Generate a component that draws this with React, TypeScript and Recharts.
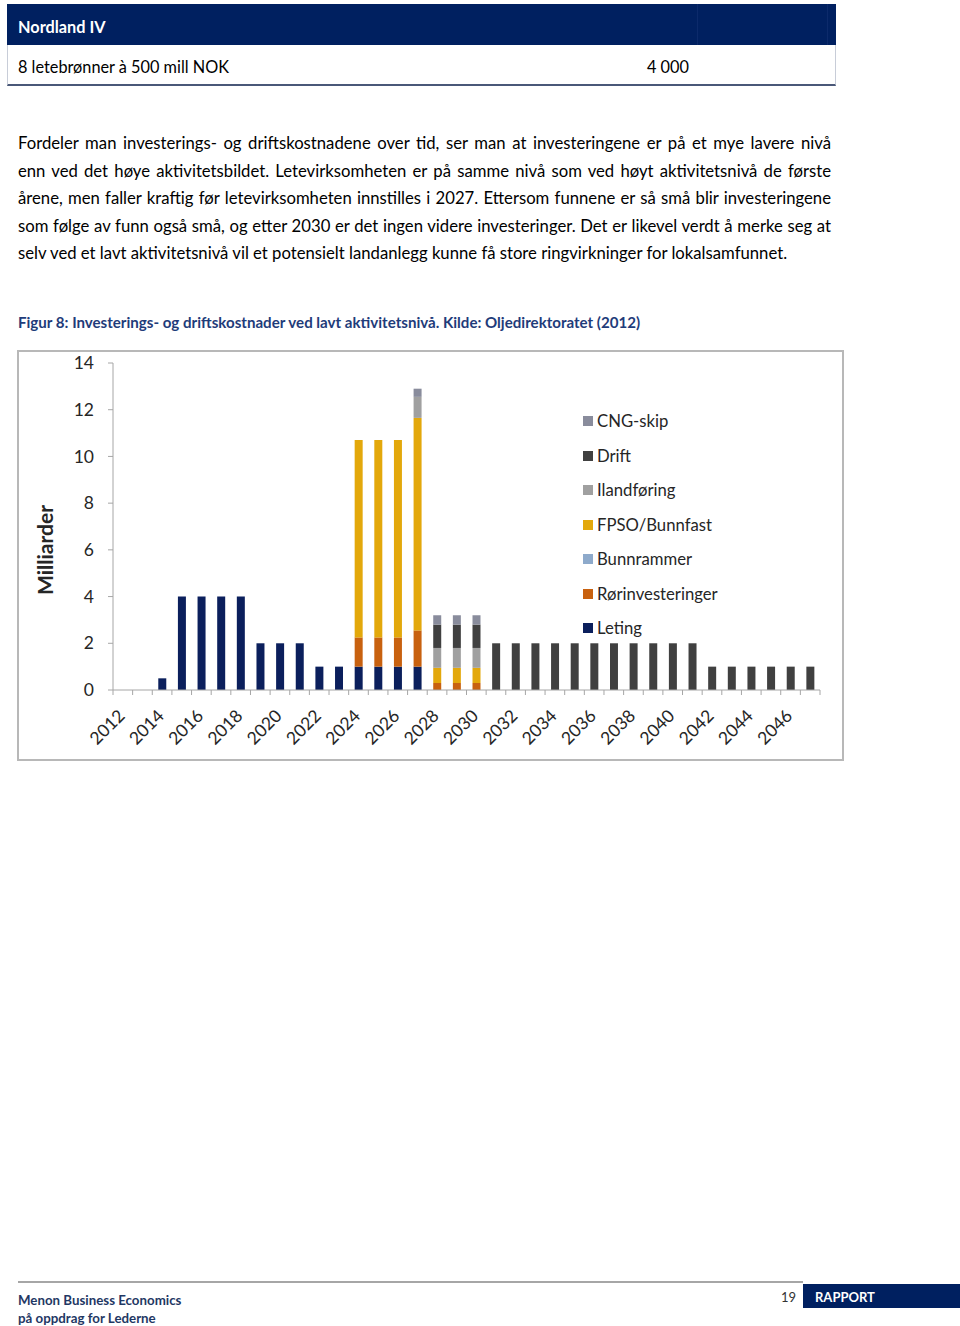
import React from "react";
import { BarChart, Bar, XAxis, YAxis, Legend, Label } from "recharts";

const years = [
  "2012", "2013", "2014", "2015", "2016", "2017", "2018", "2019", "2020", "2021",
  "2022", "2023", "2024", "2025", "2026", "2027", "2028", "2029", "2030", "2031",
  "2032", "2033", "2034", "2035", "2036", "2037", "2038", "2039", "2040", "2041",
  "2042", "2043", "2044", "2045", "2046", "2047",
];

const leting = [0, 0, 0.5, 4, 4, 4, 4, 2, 2, 2, 1, 1, 1, 1, 1, 1, 0, 0, 0, 0, 0, 0, 0, 0, 0, 0, 0, 0, 0, 0, 0, 0, 0, 0, 0, 0];
const rorinvesteringer = [0, 0, 0, 0, 0, 0, 0, 0, 0, 0, 0, 0, 1.25, 1.25, 1.25, 1.55, 0.3, 0.3, 0.3, 0, 0, 0, 0, 0, 0, 0, 0, 0, 0, 0, 0, 0, 0, 0, 0, 0];
const bunnrammer = [0, 0, 0, 0, 0, 0, 0, 0, 0, 0, 0, 0, 0, 0, 0, 0, 0, 0, 0, 0, 0, 0, 0, 0, 0, 0, 0, 0, 0, 0, 0, 0, 0, 0, 0, 0];
const fpso = [0, 0, 0, 0, 0, 0, 0, 0, 0, 0, 0, 0, 8.45, 8.45, 8.45, 9.1, 0.65, 0.65, 0.65, 0, 0, 0, 0, 0, 0, 0, 0, 0, 0, 0, 0, 0, 0, 0, 0, 0];
const ilandforing = [0, 0, 0, 0, 0, 0, 0, 0, 0, 0, 0, 0, 0, 0, 0, 0.9, 0.85, 0.85, 0.85, 0, 0, 0, 0, 0, 0, 0, 0, 0, 0, 0, 0, 0, 0, 0, 0, 0];
const drift = [0, 0, 0, 0, 0, 0, 0, 0, 0, 0, 0, 0, 0, 0, 0, 0, 1, 1, 1, 2, 2, 2, 2, 2, 2, 2, 2, 2, 2, 2, 1, 1, 1, 1, 1, 1];
const cngSkip = [0, 0, 0, 0, 0, 0, 0, 0, 0, 0, 0, 0, 0, 0, 0, 0.35, 0.4, 0.4, 0.4, 0, 0, 0, 0, 0, 0, 0, 0, 0, 0, 0, 0, 0, 0, 0, 0, 0];

const yTicks = [0, 2, 4, 6, 8, 10, 12, 14];

const seriesNames = ["Leting", "Rørinvesteringer", "Bunnrammer", "FPSO/Bunnfast", "Ilandføring", "Drift", "CNG-skip"];
const seriesKeys = ["leting", "ror", "bunn", "fpso", "iland", "drift", "cng"];
const seriesColors = ["#0b1f5c", "#c8610f", "#8eaacb", "#e3a80b", "#a0a0a0", "#404040", "#898c9c"];

const data = years.map((year, i) => ({
  year,
  leting: leting[i],
  ror: rorinvesteringer[i],
  bunn: bunnrammer[i],
  fpso: fpso[i],
  iland: ilandforing[i],
  drift: drift[i],
  cng: cngSkip[i],
}));

const AXIS = "#a6a6a6";
const FONT = "Lato, 'Open Sans', sans-serif";
const NAVY = "#002060";

const XTick = (props: any) => {
  const { x, y, payload } = props;
  const idx = props.index ?? payload.index;
  const off = payload.offset ?? 9.82;
  const tx = x + 3;
  const ty = y + 27;
  return (
    <g>
      <line x1={x - off} x2={x - off} y1={y} y2={y + 5} stroke={AXIS} strokeWidth={1} />
      {idx === years.length - 1 && (
        <line x1={x + off} x2={x + off} y1={y} y2={y + 5} stroke={AXIS} strokeWidth={1} />
      )}
      {idx % 2 === 0 && (
        <text
          x={tx}
          y={ty}
          textAnchor="end"
          transform={`rotate(-45 ${tx} ${ty})`}
          fontSize={17.5}
          fontFamily={FONT}
          fill="#262626"
        >
          {payload.value}
        </text>
      )}
    </g>
  );
};

const legendOrder = [6, 5, 4, 3, 2, 1, 0];

const renderLegend = () => (
  <div style={{ position: "relative", fontFamily: FONT }}>
    {legendOrder.map((si, k) => (
      <div
        key={seriesKeys[si]}
        style={{
          position: "absolute",
          left: 0,
          top: k * 34.5,
          height: 20,
          display: "flex",
          alignItems: "center",
          whiteSpace: "nowrap",
        }}
      >
        <span style={{ display: "inline-block", width: 10, height: 10, background: seriesColors[si], marginRight: 4 }} />
        <span style={{ fontSize: 16.7, color: "#262626" }}>{seriesNames[si]}</span>
      </div>
    ))}
  </div>
);

const bodyLines = [
  "Fordeler man investerings- og driftskostnadene over tid, ser man at investeringene er på et mye lavere nivå",
  "enn ved det høye aktivitetsbildet. Letevirksomheten er på samme nivå som ved høyt aktivitetsnivå de første",
  "årene, men faller kraftig før letevirksomheten innstilles i 2027. Ettersom funnene er så små blir investeringene",
  "som følge av funn også små, og etter 2030 er det ingen videre investeringer. Det er likevel verdt å merke seg at",
  "selv ved et lavt aktivitetsnivå vil et potensielt landanlegg kunne få store ringvirkninger for lokalsamfunnet.",
];

export default function App() {
  return (
    <div style={{ position: "absolute", left: 0, top: 0, width: 960, height: 1326, background: "#fff", fontFamily: FONT, overflow: "hidden" }}>
      {/* header table */}
      <div style={{ position: "absolute", left: 7, top: 4, width: 829, height: 41, background: NAVY }} />
      <div style={{ position: "absolute", left: 697, top: 4, width: 1, height: 41, background: "#0c2a6b" }} />
      <div style={{ position: "absolute", left: 827, top: 4, width: 1, height: 41, background: "#0c2a6b" }} />
      <div style={{ position: "absolute", left: 18, top: 16, color: "#fff", fontWeight: 700, fontSize: 16.3, lineHeight: "22px" }}>Nordland IV</div>
      <div style={{ position: "absolute", left: 7, top: 45, width: 829, height: 41, boxSizing: "border-box", borderLeft: "1px solid #c8cdd8", borderRight: "1px solid #c8cdd8", borderBottom: "2px solid #4a5878" }} />
      <div style={{ position: "absolute", left: 18, top: 56, color: "#000", fontSize: 16.3, lineHeight: "22px" }}>8 letebrønner à 500 mill NOK</div>
      <div style={{ position: "absolute", left: 647, top: 56, color: "#000", fontSize: 16.3, lineHeight: "22px" }}>4 000</div>

      {/* body text */}
      <div style={{ position: "absolute", left: 18, top: 130, width: 813, fontSize: 16.7, lineHeight: "27.5px", color: "#000" }}>
        {bodyLines.map((l, i) => (
          <div
            key={i}
            style={{
              textAlign: i < bodyLines.length - 1 ? "justify" : "left",
              textAlignLast: i < bodyLines.length - 1 ? "justify" : "left",
              whiteSpace: "nowrap",
              height: 27.5,
            } as any}
          >
            {l}
          </div>
        ))}
      </div>

      {/* caption */}
      <div style={{ position: "absolute", left: 18, top: 312, fontSize: 15.1, fontWeight: 700, color: "#1f3c7a", lineHeight: "21px", whiteSpace: "nowrap" }}>
        Figur 8: Investerings- og driftskostnader ved lavt aktivitetsnivå. Kilde: Oljedirektoratet (2012)
      </div>

      {/* chart */}
      <div style={{ position: "absolute", left: 17, top: 350, width: 827, height: 411 }}>
        <BarChart width={827} height={411} data={data} margin={{ top: 13, right: 24, bottom: 0, left: 0 }}>
          <XAxis
            dataKey="year"
            interval={0}
            tickSize={0}
            tickMargin={0}
            tick={<XTick />}
            axisLine={{ stroke: AXIS, strokeWidth: 1 }}
            tickLine={false}
            height={71}
          />
          <YAxis
            domain={[0, 14]}
            ticks={yTicks}
            interval={0}
            width={96}
            tickSize={5}
            tickMargin={14}
            axisLine={{ stroke: AXIS, strokeWidth: 1 }}
            tickLine={{ stroke: AXIS }}
            tick={{ fontSize: 17.5, fill: "#262626", fontFamily: FONT }}
          >
            <Label
              content={() => (
                <text
                  x={36}
                  y={200}
                  transform="rotate(-90 36 200)"
                  textAnchor="middle"
                  fontSize={21}
                  fontWeight={700}
                  fontFamily={FONT}
                  fill="#262626"
                >
                  Milliarder
                </text>
              )}
            />
          </YAxis>
          <Legend
            layout="horizontal"
            verticalAlign="middle"
            align="center"
            wrapperStyle={{ left: 566, top: 61, width: 0, height: 0, overflow: "visible" }}
            content={renderLegend}
          />
          {seriesKeys.map((k, i) => (
            <Bar key={k} dataKey={k} name={seriesNames[i]} stackId="a" fill={seriesColors[i]} barSize={8} isAnimationActive={false} />
          ))}
        </BarChart>
      </div>
      <div style={{ position: "absolute", left: 17, top: 350, width: 827, height: 411, boxSizing: "border-box", border: "2px solid #b8b8b8", pointerEvents: "none" }} />

      {/* footer */}
      <div style={{ position: "absolute", left: 18, top: 1281, width: 785, height: 2, background: "#a6a6a6" }} />
      <div style={{ position: "absolute", left: 18, top: 1291, fontSize: 13.3, fontWeight: 700, color: "#1f3864", lineHeight: "18px" }}>Menon Business Economics</div>
      <div style={{ position: "absolute", left: 18, top: 1309, fontSize: 13.3, fontWeight: 700, color: "#1f3864", lineHeight: "18px" }}>på oppdrag for Lederne</div>
      <div style={{ position: "absolute", left: 781, top: 1288, fontSize: 13, color: "#333", lineHeight: "18px" }}>19</div>
      <div style={{ position: "absolute", left: 803, top: 1284, width: 157, height: 24, background: NAVY }} />
      <div style={{ position: "absolute", left: 815, top: 1288, fontSize: 13, fontWeight: 700, color: "#fff", lineHeight: "18px" }}>RAPPORT</div>
    </div>
  );
}
